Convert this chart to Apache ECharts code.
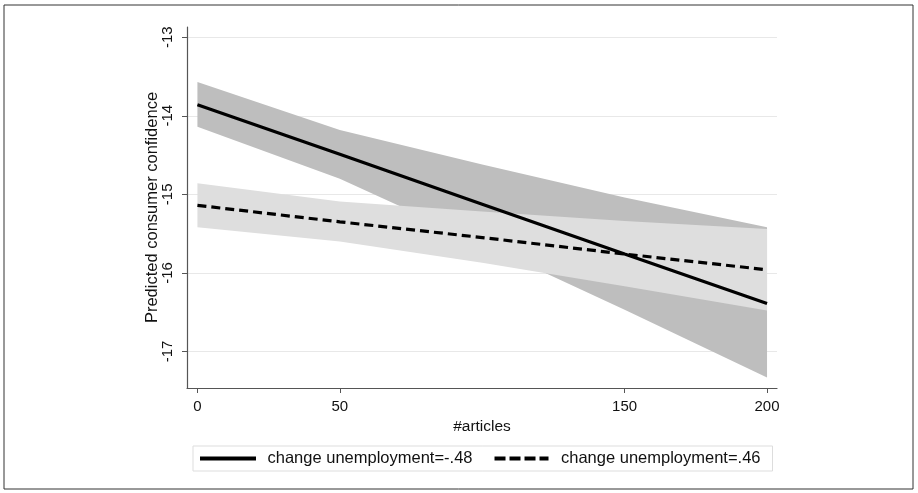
<!DOCTYPE html>
<html><head><meta charset="utf-8">
<script src="https://cdn.jsdelivr.net/npm/echarts@6/dist/echarts.min.js"></script>
<style>html,body{margin:0;padding:0;background:#fff}#c{width:918px;height:493px}</style>
</head><body><div id="c"></div>
<script>
const articles = [0, 50, 100, 150, 200];
const xTicks = [0, 50, 150, 200];
const yTicks = [-17, -16, -15, -14, -13];
const seriesNames = ['change unemployment=-.48', 'change unemployment=.46'];
// change unemployment = -.48 (solid)
const predLow = [-13.86, -14.49, -15.125, -15.76, -16.39];
const ciLowUpper = [-13.57, -14.18, -14.62, -15.04, -15.42];
const ciLowLower = [-14.14, -14.80, -15.63, -16.47, -17.33];
// change unemployment = .46 (dashed)
const predHigh = [-15.14, -15.35, -15.55, -15.76, -15.96];
const ciHighUpper = [-14.86, -15.09, -15.22, -15.34, -15.44];
const ciHighLower = [-15.42, -15.60, -15.87, -16.17, -16.48];

const pairs = (ys) => articles.map((x, i) => [x, ys[i]]);
const bandRows = (up, lo) => articles.map((x, i) => [x, up[i], lo[i]]);
const FONT = 'Liberation Sans, Arial, sans-serif';

// one polygon per band, built from all rows through the axis scales
function bandRenderer(rows, color) {
  return function (params, api) {
    if (params.dataIndex !== 0) return null;
    const upper = rows.map(r => api.coord([r[0], r[1]]));
    const lower = rows.slice().reverse().map(r => api.coord([r[0], r[2]]));
    return {type: 'polygon', shape: {points: upper.concat(lower)},
      style: {fill: color}};
  };
}

const lowRows = bandRows(ciLowUpper, ciLowLower);
const highRows = bandRows(ciHighUpper, ciHighLower);

const chart = echarts.init(document.getElementById('c'), null, {renderer: 'canvas'});
chart.setOption({
  animation: false,
  backgroundColor: '#fff',
  textStyle: {fontFamily: FONT},
  grid: {left: 187, right: 141, top: 27, bottom: 105, containLabel: false},
  graphic: [{type: 'rect', shape: {x: 4, y: 5, width: 909, height: 484},
    style: {fill: null, stroke: '#333', lineWidth: 1}, silent: true}],
  legend: {
    data: [
      {name: seriesNames[0], icon: 'path://M0,0H56V4H0Z'},
      {name: seriesNames[1], icon: 'path://M0,0H11V4H0Z M15,0H26V4H15Z M30,0H41V4H30Z M45,0H54V4H45Z'}
    ],
    left: 193, top: 446,
    itemWidth: 57, itemHeight: 4, itemGap: 22,
    padding: [4, 12, 4, 7],
    borderColor: '#dddddd', borderWidth: 1,
    itemStyle: {color: '#000'},
    textStyle: {fontFamily: FONT, fontSize: 16.5, color: '#111', padding: [0, 0, 0, 6]}
  },
  xAxis: {
    type: 'value', min: -3.66, max: 203.5,
    name: '#articles', nameLocation: 'middle', nameGap: 30,
    nameTextStyle: {fontFamily: FONT, fontSize: 15.5, color: '#111'},
    axisLine: {onZero: false, lineStyle: {color: '#555', width: 1.2}},
    axisTick: {show: true, length: 5, customValues: xTicks, lineStyle: {color: '#555'}},
    axisLabel: {customValues: xTicks, margin: 11, fontFamily: FONT, fontSize: 15, color: '#111'},
    splitLine: {show: false}
  },
  yAxis: {
    type: 'value', min: -17.465, max: -12.87,
    name: 'Predicted consumer confidence', nameLocation: 'middle', nameGap: 26, nameRotate: 90,
    nameMoveOverlap: false,
    nameTextStyle: {fontFamily: FONT, fontSize: 16.5, color: '#111'},
    axisLine: {show: true, onZero: false, lineStyle: {color: '#555', width: 1.2}},
    axisTick: {show: true, length: 5, customValues: yTicks, lineStyle: {color: '#555'}},
    axisLabel: {customValues: yTicks, rotate: 90, margin: 12, fontFamily: FONT, fontSize: 15, color: '#111'},
    splitLine: {show: true, lineStyle: {color: '#e8e8e8', width: 1}}
  },
  series: [
    {type: 'custom', name: 'bandLow', data: lowRows, renderItem: bandRenderer(lowRows, '#bebebe'),
      encode: {x: 0, y: [1, 2]}, silent: true, z: 1},
    {type: 'custom', name: 'bandHigh', data: highRows, renderItem: bandRenderer(highRows, '#dedede'),
      encode: {x: 0, y: [1, 2]}, silent: true, z: 2},
    {type: 'line', name: seriesNames[0], data: pairs(predLow), showSymbol: false, symbol: 'none',
      color: '#000', lineStyle: {color: '#000', width: 3.2}, z: 5},
    {type: 'line', name: seriesNames[1], data: pairs(predHigh), showSymbol: false, symbol: 'none',
      color: '#000', lineStyle: {color: '#000', width: 3.2, type: [9, 5]}, z: 5}
  ]
});
</script></body></html>
